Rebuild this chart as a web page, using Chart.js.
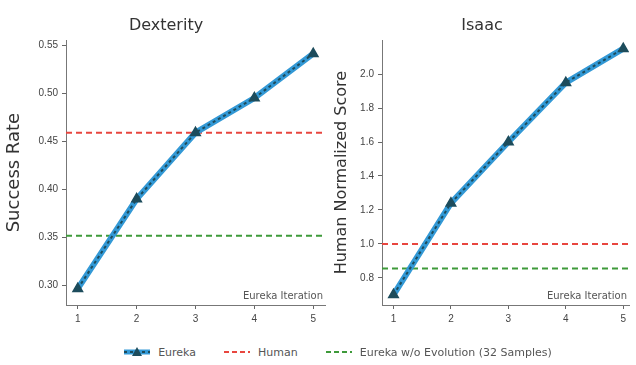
<!DOCTYPE html>
<html><head><meta charset="utf-8">
<script src="https://cdn.jsdelivr.net/npm/chart.js@4/dist/chart.umd.min.js"></script>
<style>
html,body{margin:0;padding:0;background:#fff;width:636px;height:365px;overflow:hidden;font-family:"DejaVu Sans",sans-serif;}
#c1{position:absolute;left:0;top:0;}
#c2{position:absolute;left:328px;top:0;}
#legend{position:absolute;left:0;top:342px;width:636px;height:20px;display:flex;justify-content:center;align-items:center;font-size:11px;color:#555;padding-left:40px;box-sizing:border-box;}
#legend .it{display:flex;align-items:center;margin:0 14px;}
#legend canvas{margin-right:8px;}
</style></head>
<body>
<canvas id="c1" width="332" height="330"></canvas>
<canvas id="c2" width="308" height="330"></canvas>
<div id="legend"></div>
<script>
const iterations = [1, 2, 3, 4, 5];
const dexterityEureka = [0.297, 0.39, 0.459, 0.495, 0.541];
const dexterityHuman = 0.459;
const dexterityNoEvolution = 0.352;
const dexterityTicks = [0.30, 0.35, 0.40, 0.45, 0.50, 0.55];
const isaacEureka = [0.70, 1.24, 1.60, 1.95, 2.15];
const isaacHuman = 1.0;
const isaacNoEvolution = 0.855;
const isaacTicks = [0.8, 1.0, 1.2, 1.4, 1.6, 1.8, 2.0];
const xTicks = [1, 2, 3, 4, 5];
const legendLabels = ['Eureka', 'Human', 'Eureka w/o Evolution (32 Samples)'];

const BLUE = '#3399d6', DARK = '#1d4c5c', RED = '#e8463f', GREEN = '#3e9a3a';

const innerLabel = {
  id: 'innerLabel',
  afterDraw(chart) {
    const {ctx, chartArea} = chart;
    ctx.save();
    ctx.font = '10px "DejaVu Sans"';
    ctx.fillStyle = '#555';
    ctx.textAlign = 'right';
    ctx.textBaseline = 'bottom';
    ctx.fillText('Eureka Iteration', chartArea.right - 2, chartArea.bottom - 4);
    ctx.restore();
  }
};

function hline(v, color, n, xmax) {
  return {label: n, data: [{x: 0.8, y: v}, {x: xmax, y: v}], borderColor: color, borderWidth: 2,
    borderDash: [6, 4], pointRadius: 0, fill: false, tension: 0, order: 3};
}

function makeChart(id, title, yTitle, yTitleSize, values, human, noEvo, ticks, ymin, ymax, xmax, yWidth, dec) {
  const xy = values.map((v, i) => ({x: iterations[i], y: v}));
  return new Chart(document.getElementById(id), {
    type: 'line',
    data: {datasets: [
      hline(human, RED, 'Human', xmax),
      hline(noEvo, GREEN, 'noevo', xmax),
      {label: 'Eureka', data: xy, borderColor: BLUE, borderWidth: 6, pointRadius: 0, tension: 0, order: 2},
      {label: 'EurekaDark', data: xy, borderColor: DARK, borderWidth: 2, borderDash: [3, 3],
       pointRadius: 5, pointStyle: 'triangle', pointBackgroundColor: DARK, pointBorderColor: DARK, tension: 0, order: 1}
    ]},
    options: {
      responsive: false, animation: false, devicePixelRatio: 1,
      layout: {padding: {top: 1, right: 0, bottom: 0, left: 0}},
      plugins: {
        legend: {display: false}, tooltip: {enabled: false},
        title: {display: true, text: title, color: '#333', font: {size: 16, family: '"DejaVu Sans"', weight: 'normal'}, padding: {top: 15, bottom: 5}}
      },
      scales: {
        x: {type: 'linear', min: 0.8, max: xmax,
          afterBuildTicks: s => { s.ticks = xTicks.map(v => ({value: v})); },
          afterFit: s => { s.height = 25; },
          grid: {drawOnChartArea: false, drawTicks: true, tickLength: 4, color: '#666'},
          border: {display: true, color: '#777', width: 1},
          ticks: {color: '#444', font: {size: 10}, padding: 4, callback: v => String(v)}
        },
        y: {min: ymin, max: ymax,
          afterBuildTicks: s => { s.ticks = ticks.map(v => ({value: v})); },
          afterFit: s => { s.width = yWidth; },
          grid: {drawOnChartArea: false, drawTicks: true, tickLength: 4, color: '#666'},
          border: {display: true, color: '#777', width: 1},
          title: {display: true, text: yTitle, color: '#333', font: {size: yTitleSize, family: '"DejaVu Sans"'}, padding: {top: 4, bottom: 2}},
          ticks: {color: '#444', font: {size: 10}, padding: 4, callback: v => Number(v).toFixed(dec)}
        }
      }
    },
    plugins: [innerLabel]
  });
}

makeChart('c1', 'Dexterity', 'Success Rate', 18, dexterityEureka, dexterityHuman, dexterityNoEvolution, dexterityTicks, 0.28, 0.555, 5.2, 66, 2);
makeChart('c2', 'Isaac', 'Human Normalized Score', 16, isaacEureka, isaacHuman, isaacNoEvolution, isaacTicks, 0.64, 2.2, 5.1, 54, 1);

// legend
const lg = document.getElementById('legend');
const styles = [
  {color: BLUE, dark: true}, {color: RED, dash: [5, 3]}, {color: GREEN, dash: [5, 3]}
];
legendLabels.forEach((t, i) => {
  const d = document.createElement('div'); d.className = 'it';
  const c = document.createElement('canvas'); c.width = 26; c.height = 12;
  const x = c.getContext('2d');
  const st = styles[i];
  if (st.dark) {
    x.strokeStyle = BLUE; x.lineWidth = 5; x.beginPath(); x.moveTo(0, 6); x.lineTo(26, 6); x.stroke();
    x.strokeStyle = DARK; x.lineWidth = 2; x.setLineDash([3, 3]); x.beginPath(); x.moveTo(0, 6); x.lineTo(26, 6); x.stroke();
    x.fillStyle = DARK; x.beginPath(); x.moveTo(13, 1); x.lineTo(18, 10); x.lineTo(8, 10); x.closePath(); x.fill();
  } else {
    x.strokeStyle = st.color; x.lineWidth = 2; x.setLineDash(st.dash); x.beginPath(); x.moveTo(0, 6); x.lineTo(26, 6); x.stroke();
  }
  const s = document.createElement('span'); s.textContent = t;
  d.appendChild(c); d.appendChild(s); lg.appendChild(d);
});
</script>
</body></html>
